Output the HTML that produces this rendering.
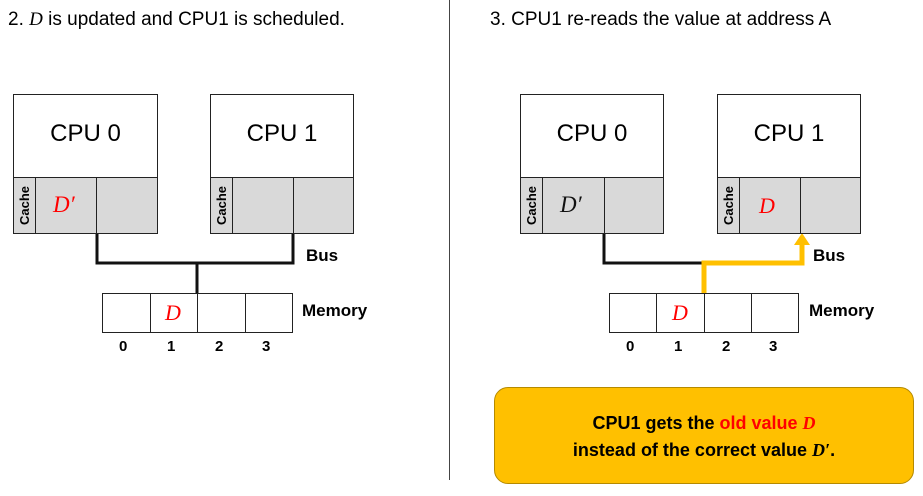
<!DOCTYPE html>
<html><head><meta charset="utf-8"><style>
body{margin:0;width:923px;height:496px;background:#fff;overflow:hidden;position:relative;font-family:"Liberation Sans",sans-serif}
.a{position:absolute}
.box{position:absolute;border:1px solid #222;box-sizing:border-box;background:#fff}
.g{position:absolute;background:#d9d9d9;border:1px solid #222;box-sizing:border-box}
.t{position:absolute;white-space:nowrap}
.m{font-family:"Liberation Serif",serif;font-style:italic}
.b{font-weight:bold;font-size:17px}
.c{position:absolute;width:57px;height:23px;line-height:23px;text-align:center;transform:rotate(-90deg);font-size:13px;font-weight:bold}
</style></head><body>
<div class="t" style="left:8px;top:9px;font-size:19px">2. <span class="m">D</span> is updated and CPU1 is scheduled.</div>
<div class="t" style="left:490px;top:9px;font-size:19px">3. CPU1 re-reads the value at address A</div>
<div class="a" style="left:449px;top:0;width:1px;height:480px;background:#444"></div>

<svg class="a" style="left:0;top:0" width="923" height="496">
<g fill="none" stroke="#111" stroke-width="3">
<polyline points="97,233 97,263 293,263 293,233"/>
<line x1="197" y1="263" x2="197" y2="293"/>
<polyline points="604,233 604,263 704,263"/>
</g>
<polyline points="704,293 704,263 802,263 802,244" fill="none" stroke="#ffc000" stroke-width="5"/>
<polygon points="802,233 794,245 810,245" fill="#ffc000"/>
</svg>

<!-- left panel -->
<div class="box" style="left:13px;top:94px;width:145px;height:140px"></div>
<div class="t" style="left:13px;top:120px;width:145px;text-align:center;font-size:24px">CPU 0</div>
<div class="g" style="left:13px;top:177px;width:23px;height:57px"></div>
<div class="g" style="left:35px;top:177px;width:62px;height:57px"></div>
<div class="g" style="left:96px;top:177px;width:62px;height:57px"></div>
<div class="c" style="left:-4px;top:194px">Cache</div>
<div class="t m" style="left:53px;top:192px;font-size:23px;color:#f00">D′</div>

<div class="box" style="left:210px;top:94px;width:144px;height:140px"></div>
<div class="t" style="left:210px;top:120px;width:144px;text-align:center;font-size:24px">CPU 1</div>
<div class="g" style="left:210px;top:177px;width:23px;height:57px"></div>
<div class="g" style="left:232px;top:177px;width:62px;height:57px"></div>
<div class="g" style="left:293px;top:177px;width:61px;height:57px"></div>
<div class="c" style="left:193px;top:194px">Cache</div>

<div class="box" style="left:102px;top:293px;width:49px;height:40px"></div>
<div class="box" style="left:150px;top:293px;width:48px;height:40px"></div>
<div class="box" style="left:197px;top:293px;width:49px;height:40px"></div>
<div class="box" style="left:245px;top:293px;width:48px;height:40px"></div>
<div class="t m" style="left:165px;top:300px;font-size:22px;color:#f00">D</div>
<div class="t b" style="left:306px;top:246px">Bus</div>
<div class="t b" style="left:302px;top:301px">Memory</div>
<div class="t b" style="left:119px;top:338px;font-size:15px">0</div>
<div class="t b" style="left:167px;top:338px;font-size:15px">1</div>
<div class="t b" style="left:215px;top:338px;font-size:15px">2</div>
<div class="t b" style="left:262px;top:338px;font-size:15px">3</div>

<!-- right panel -->
<div class="box" style="left:520px;top:94px;width:144px;height:140px"></div>
<div class="t" style="left:520px;top:120px;width:144px;text-align:center;font-size:24px">CPU 0</div>
<div class="g" style="left:520px;top:177px;width:23px;height:57px"></div>
<div class="g" style="left:542px;top:177px;width:63px;height:57px"></div>
<div class="g" style="left:604px;top:177px;width:60px;height:57px"></div>
<div class="c" style="left:503px;top:194px">Cache</div>
<div class="t m" style="left:560px;top:192px;font-size:23px;color:#111">D′</div>

<div class="box" style="left:717px;top:94px;width:144px;height:140px"></div>
<div class="t" style="left:717px;top:120px;width:144px;text-align:center;font-size:24px">CPU 1</div>
<div class="g" style="left:717px;top:177px;width:23px;height:57px"></div>
<div class="g" style="left:739px;top:177px;width:62px;height:57px"></div>
<div class="g" style="left:800px;top:177px;width:61px;height:57px"></div>
<div class="c" style="left:700px;top:194px">Cache</div>
<div class="t m" style="left:759px;top:193px;font-size:22px;color:#f00">D</div>

<div class="box" style="left:609px;top:293px;width:48px;height:40px"></div>
<div class="box" style="left:656px;top:293px;width:49px;height:40px"></div>
<div class="box" style="left:704px;top:293px;width:48px;height:40px"></div>
<div class="box" style="left:751px;top:293px;width:48px;height:40px"></div>
<div class="t m" style="left:672px;top:300px;font-size:22px;color:#f00">D</div>
<div class="t b" style="left:813px;top:246px">Bus</div>
<div class="t b" style="left:809px;top:301px">Memory</div>
<div class="t b" style="left:626px;top:338px;font-size:15px">0</div>
<div class="t b" style="left:674px;top:338px;font-size:15px">1</div>
<div class="t b" style="left:722px;top:338px;font-size:15px">2</div>
<div class="t b" style="left:769px;top:338px;font-size:15px">3</div>

<div class="a" style="left:494px;top:387px;width:420px;height:97px;box-sizing:border-box;background:#ffc000;border:1.5px solid #b58a00;border-radius:14px"></div>
<div class="t" style="left:494px;top:410px;width:420px;text-align:center;font-size:18px;font-weight:bold;line-height:27px">CPU1 gets the <span style="color:#f00">old value <span class="m">D</span></span><br>instead of the correct value <span class="m">D′</span>.</div>
</body></html>
